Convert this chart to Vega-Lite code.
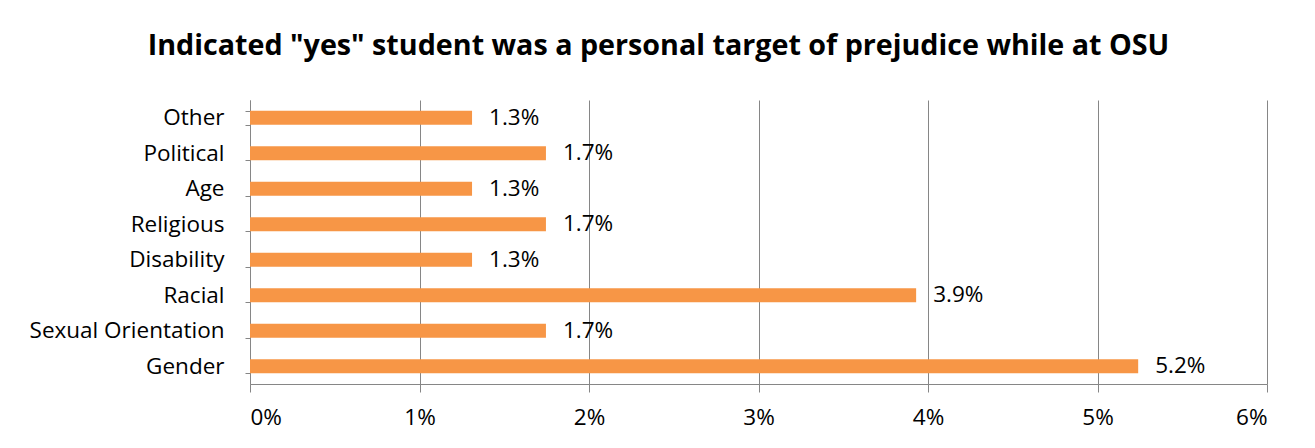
{
  "$schema": "https://vega.github.io/schema/vega-lite/v6.json",
  "autosize": "none",
  "width": 1017,
  "height": 284,
  "padding": {"left": 250, "top": 100, "right": 48, "bottom": 64},
  "background": "white",
  "title": {
    "text": "Indicated \"yes\" student was a personal target of prejudice while at OSU",
    "font": "Open Sans",
    "fontSize": 28.7,
    "fontWeight": "bold",
    "color": "#000000",
    "anchor": "middle",
    "dx": -100,
    "offset": 28
  },
  "data": {
    "values": [
      {"category": "Other", "value": 0.0131},
      {"category": "Political", "value": 0.01746},
      {"category": "Age", "value": 0.0131},
      {"category": "Religious", "value": 0.01746},
      {"category": "Disability", "value": 0.0131},
      {"category": "Racial", "value": 0.0393},
      {"category": "Sexual Orientation", "value": 0.01746},
      {"category": "Gender", "value": 0.0524}
    ]
  },
  "encoding": {
    "y": {
      "field": "category",
      "type": "nominal",
      "sort": null,
      "scale": {"paddingInner": 0.6, "paddingOuter": 0.3},
      "axis": {
        "title": null,
        "tickBand": "extent",
        "domainColor": "#868686",
        "tickColor": "#868686",
        "tickSize": 5,
        "labelFont": "Open Sans",
        "labelFontSize": 22.5,
        "labelColor": "#000000",
        "labelPadding": 21,
        "labelLimit": 400,
        "grid": false
      }
    },
    "x": {
      "field": "value",
      "type": "quantitative",
      "scale": {"domain": [0, 0.06], "nice": false},
      "axis": {
        "title": null,
        "format": ".0%",
        "values": [0, 0.01, 0.02, 0.03, 0.04, 0.05, 0.06],
        "domainColor": "#868686",
        "tickColor": "#868686",
        "gridColor": "#868686",
        "tickSize": 8,
        "labelFont": "Open Sans",
        "labelFontSize": 22.5,
        "labelColor": "#000000",
        "labelPadding": 14,
        "grid": true
      }
    }
  },
  "layer": [
    {"mark": {"type": "bar", "color": "#F79646"}},
    {
      "mark": {"type": "text", "align": "left", "baseline": "middle", "dx": 17, "font": "Open Sans", "fontSize": 22.5, "color": "#000000"},
      "encoding": {"text": {"field": "value", "type": "quantitative", "format": ".1%"}}
    }
  ],
  "config": {"view": {"stroke": null}}
}
